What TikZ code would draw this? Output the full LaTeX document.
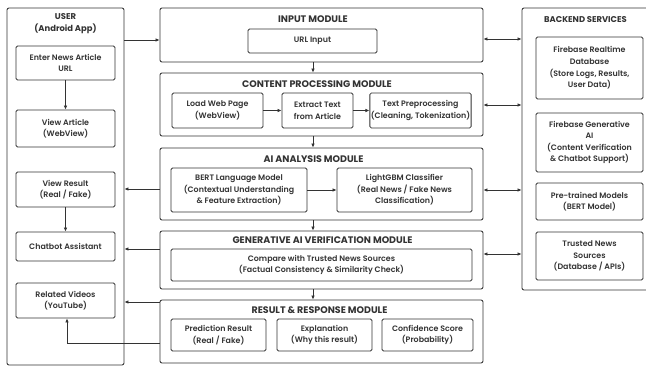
\documentclass[tikz,border=0pt]{standalone}
\usepackage{fontspec}
\setmainfont{Poppins}[UprightFont={* SemiBold},BoldFont={* Bold}]
\usetikzlibrary{arrows.meta}
\definecolor{ink}{HTML}{333333}
\begin{document}
\begin{tikzpicture}[
 x=1pt,y=-1pt,
 line/.style={draw=ink,line width=.85pt},
 arr/.style={line,-{Latex[length=4pt,width=3.6pt]}},
 darr/.style={line,{Latex[length=4pt,width=3.6pt]}-{Latex[length=4pt,width=3.6pt]}},
 panel/.style={line,rounded corners=2pt,fill=white,inner sep=0pt},
 box/.style={line,rounded corners=1.5pt,fill=white,inner sep=1pt,align=center,
  font=\fontsize{7.9}{11.6}\selectfont,text=ink},
 title/.style={font=\bfseries\fontsize{8.4}{12}\selectfont,text=ink,align=center},
 modtitle/.style={title,font=\bfseries\fontsize{9.5}{12}\selectfont},
 every node/.style={font=\fontsize{7.9}{11.6}\selectfont}]
 \useasboundingbox (0,0) rectangle (646,367);
 \clip (0,0) rectangle (646,367);
 % User side (Android app).
 \node[panel,minimum width=117pt,minimum height=357pt] (user) at (65.5,186.5){};
 \node[title] (usert) at (65.5,24){USER\\(Android App)};
 \node[box,minimum width=99pt,minimum height=34pt] (enter) at (65.5,63){Enter News Article\\URL};
 \node[box,minimum width=99pt,minimum height=37pt] (article) at (65.5,128.5){View Article\\(WebView)};
 \node[box,minimum width=99pt,minimum height=35pt] (result) at (65.5,189.5){View Result\\(Real / Fake)};
 \node[box,minimum width=99pt,minimum height=29pt] (chat) at (65.5,246.5){Chatbot Assistant};
 \node[box,minimum width=99pt,minimum height=35pt] (videos) at (65.5,300.5){Related Videos\\(YouTube)};
 \draw[arr] (enter)--(article);
 \draw[arr] (result)--(chat);
 % Processing modules, top to bottom.
 \node[panel,minimum width=323pt,minimum height=54pt] (input) at (321.5,35){};
 \node[modtitle] (inputt) at (313,19){INPUT MODULE};
 \node[box,minimum width=129pt,minimum height=24pt] (url) at (312.5,41){URL Input};
 \node[panel,minimum width=323pt,minimum height=63pt] (content) at (321.5,104.5){};
 \node[modtitle] (contentt) at (317,84){CONTENT PROCESSING MODULE};
 \node[box,minimum width=91pt,minimum height=35pt] (load) at (217.5,110.5){Load Web Page\\(WebView)};
 \node[box,minimum width=71pt,minimum height=35pt] (extract) at (317.5,110.5){Extract Text\\from Article};
 \node[box,minimum width=99pt,minimum height=35pt] (prep) at (420.5,110.5){Text Preprocessing\\(Cleaning, Tokenization)};
 \draw[arr] (load)--(extract);
 \draw[arr] (extract)--(prep);
 \node[panel,minimum width=323pt,minimum height=72pt] (ai) at (321.5,184){};
 \node[modtitle] (ait) at (313.5,159){AI ANALYSIS MODULE};
 \node[box,minimum width=136pt,minimum height=44pt] (bert) at (239,190){BERT Language Model\\(Contextual Understanding\\\& Feature Extraction)};
 \node[box,minimum width=135pt,minimum height=44pt] (lgbm) at (404.5,190){LightGBM Classifier\\(Real News / Fake News\\Classification)};
 \draw[arr] (bert)--(lgbm);
 \node[panel,minimum width=323pt,minimum height=58pt] (gen) at (321.5,260){};
 \node[modtitle] (gent) at (322.5,240){GENERATIVE AI VERIFICATION MODULE};
 \node[box,minimum width=301pt,minimum height=32pt] (compare) at (321.5,265){Compare with Trusted News Sources\\(Factual Consistency \& Similarity Check)};
 \node[panel,minimum width=323pt,minimum height=63pt] (res) at (321.5,331.5){};
 \node[modtitle] (rest) at (319.5,310){RESULT \& RESPONSE MODULE};
 \node[box,minimum width=95pt,minimum height=32pt] (pred) at (218.5,335){Prediction Result\\(Real / Fake)};
 \node[box,minimum width=95pt,minimum height=32pt] (expl) at (324.5,335){Explanation\\(Why this result)};
 \node[box,minimum width=91pt,minimum height=32pt] (conf) at (427.5,335){Confidence Score\\(Probability)};
 \foreach \a/\b in {input/content,content/ai,ai/gen,gen/res}
  \draw[arr] (\a.south-|313,0)--(\b.north-|313,0);
 % Backend services.
 \node[panel,minimum width=128pt,minimum height=282pt] (back) at (586,149){};
 \node[title] (backt) at (585.5,20){BACKEND SERVICES};
 \node[box,minimum width=107pt,minimum height=62pt] (frt) at (589.5,68){Firebase Realtime\\Database\\(Store Logs, Results,\\User Data)};
 \node[box,minimum width=107pt,minimum height=59pt] (fga) at (589.5,142.5){Firebase Generative\\AI\\(Content Verification\\\& Chatbot Support)};
 \node[box,minimum width=107pt,minimum height=37pt] (ptm) at (589.5,201.5){Pre-trained Models\\(BERT Model)};
 \node[box,minimum width=107pt,minimum height=48pt] (tns) at (589.5,256){Trusted News\\Sources\\(Database / APIs)};
 \foreach \m/\y in {input/39,content/105,ai/190,gen/254}
  \draw[darr] (\m.east|-0,\y)--(back.west|-0,\y);
 % Connections to and from the user side.
 \draw[arr] (user.east|-0,40)--(input.west|-0,40);
 \draw[arr] (ai.west|-0,189)--(user.east|-0,189);
 \draw[arr] (gen.west|-0,249)--(user.east|-0,249);
 \draw[arr] (res.west|-0,302)--(user.east|-0,302);
 \draw[arr] (res.west|-0,343)-|(videos.south-|67,0);
\end{tikzpicture}
\end{document}
